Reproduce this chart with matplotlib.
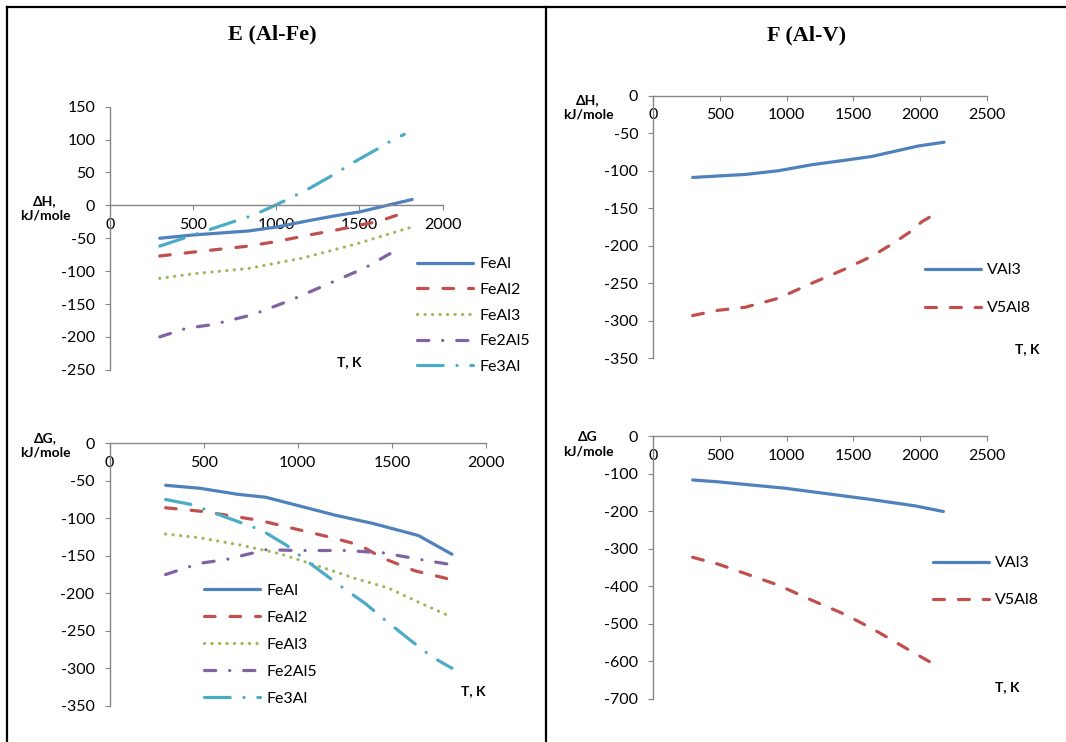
import matplotlib
matplotlib.use("Agg")
import matplotlib.pyplot as plt
from matplotlib.lines import Line2D

plt.rcParams['font.family'] = ['Lato', 'DejaVu Sans']
plt.rcParams['lines.scale_dashes'] = False
plt.rcParams['axes.unicode_minus'] = False

W, H = 1066, 742

# ---------------- data ----------------
# E (Al-Fe), dH, kJ/mole
h_feal_t = [298, 500, 830, 1000, 1200, 1350, 1500, 1650, 1818]
h_feal = [-50, -45, -39, -33, -23, -16, -10, -1, 9]
h_feal2_t = [298, 500, 830, 1000, 1220, 1330, 1620, 1760]
h_feal2 = [-77, -71, -62, -55, -44, -39, -24, -12]
h_feal3_t = [298, 500, 830, 1160, 1490, 1815]
h_feal3 = [-111, -104, -96, -80, -58, -33]
h_fe2al5_t = [298, 456, 622, 860, 1088, 1306, 1534, 1742]
h_fe2al5 = [-200, -187, -181, -166, -144, -120, -95, -65]
h_fe3al_t = [298, 500, 620, 860, 975, 1050, 1130, 1200, 1340, 1430, 1490, 1610, 1690, 1770]
h_fe3al = [-62, -45, -35, -15, -2, 7, 17, 26, 46, 60, 69, 86, 98, 108]

# E (Al-Fe), dG, kJ/mole
g_feal_t = [298, 480, 680, 830, 1000, 1200, 1400, 1640, 1818]
g_feal = [-56, -60, -68, -72, -83, -96, -107, -123, -148]
g_feal2_t = [298, 500, 800, 1000, 1200, 1330, 1450, 1620, 1818]
g_feal2 = [-86, -91, -103, -115, -127, -136, -153, -170, -182]
g_feal3_t = [298, 480, 700, 900, 1100, 1300, 1480, 1650, 1818]
g_feal3 = [-121, -126, -136, -147, -163, -180, -193, -213, -232]
g_fe2al5_t = [298, 480, 620, 830, 1000, 1250, 1450, 1650, 1818]
g_fe2al5 = [-175, -160, -155, -142, -143, -143, -146, -155, -162]
g_fe3al_t = [298, 442, 590, 808, 880, 940, 1064, 1230, 1360, 1440, 1594, 1713, 1818]
g_fe3al = [-75, -82, -96, -116, -127, -136, -160, -191, -214, -231, -262, -285, -300]

# F (Al-V), dH, kJ/mole
h_val3_t = [295, 487, 688, 938, 1188, 1438, 1638, 1813, 1988, 2180]
h_val3 = [-109, -107, -105, -100, -92, -86, -81, -74, -67, -62]
h_v5al8_t = [295, 487, 688, 938, 1188, 1438, 1638, 1788, 1938, 2013, 2138]
h_v5al8 = [-293, -286, -282, -270, -250, -231, -214, -198, -180, -168, -155]

# F (Al-V), dG, kJ/mole
g_val3_t = [295, 487, 988, 1613, 1963, 2175]
g_val3 = [-117, -122, -139, -168, -186, -201]
g_v5al8_t = [295, 487, 938, 1188, 1438, 1638, 1813, 1963, 2138]
g_v5al8 = [-323, -341, -397, -437, -475, -512, -548, -579, -614]

fe_names = ['FeAl', 'FeAl2', 'FeAl3', 'Fe2Al5', 'Fe3Al']
v_names = ['VAl3', 'V5Al8']

# Excel 2007 palette
blue, red, green, purple, aqua = '#4F81BD', '#C0504D', '#9BBB59', '#8064A2', '#4BACC6'
gray = '#868686'
LW = 2.3

styles = {
    'FeAl': dict(color=blue, linestyle='-'),
    'FeAl2': dict(color=red, linestyle=(0, (7.6, 10.8))),
    'FeAl3': dict(color=green, linestyle=(0, (0.1, 5.3))),
    'Fe2Al5': dict(color=purple, linestyle=(0, (8.1, 10, 0.1, 10))),
    'Fe3Al': dict(color=aqua, linestyle=(0, (18.5, 9.9, 0.1, 9.9))),
    'VAl3': dict(color=blue, linestyle='-'),
    'V5Al8': dict(color=red, linestyle=(0, (7.9, 10))),
}

fig = plt.figure(figsize=(W / 100, H / 100), dpi=100)


def px_axes(x0, x1, ytop, ybot):
    return fig.add_axes([x0 / W, 1 - ybot / H, (x1 - x0) / W, (ybot - ytop) / H])


def style(ax, xmax, xstep, ymin, ymax, ystep):
    ax.set_xlim(0, xmax)
    ax.set_ylim(ymin, ymax)
    ax.set_xticks(range(0, xmax + 1, xstep))
    ax.set_yticks(range(ymin, ymax + 1, ystep))
    for s in ['top', 'right']:
        ax.spines[s].set_visible(False)
    ax.spines['bottom'].set_position(('data', 0))
    for s in ['left', 'bottom']:
        ax.spines[s].set_color(gray)
        ax.spines[s].set_linewidth(1.0)
    ax.tick_params(length=3.6, width=0.8, color=gray, labelsize=11.5, labelcolor='#000000')
    ax.tick_params(axis='x', pad=5.5)
    ax.tick_params(axis='y', pad=7.2)
    ax.patch.set_visible(False)


def draw(ax, name, t, v):
    ax.plot(t, v, lw=LW, label=name, solid_capstyle='round', dash_capstyle='round',
            solid_joinstyle='round', **styles[name])


def legend(ax, x, ytop, spacing):
    ax.legend(loc='upper left', bbox_to_anchor=(x / W, 1 - ytop / H),
              bbox_transform=fig.transFigure, frameon=False, borderpad=0,
              borderaxespad=0, handlelength=3.5, handletextpad=0.4,
              labelspacing=spacing, fontsize=11.5)


# ---- E: dH ----
ax1 = px_axes(110.2, 442.5, 106.7, 369.8)
style(ax1, 2000, 500, -250, 150, 50)
for name, t, v in zip(fe_names, [h_feal_t, h_feal2_t, h_feal3_t, h_fe2al5_t, h_fe3al_t],
                      [h_feal, h_feal2, h_feal3, h_fe2al5, h_fe3al]):
    draw(ax1, name, t, v)
legend(ax1, 417.4, 257, 0.72)

# ---- E: dG ----
ax2 = px_axes(109.5, 486.2, 443.3, 705.7)
style(ax2, 2000, 500, -350, 0, 50)
for name, t, v in zip(fe_names, [g_feal_t, g_feal2_t, g_feal3_t, g_fe2al5_t, g_fe3al_t],
                      [g_feal, g_feal2, g_feal3, g_fe2al5, g_fe3al]):
    draw(ax2, name, t, v)
legend(ax2, 204, 583.5, 0.8)

# ---- F: dH ----
ax3 = px_axes(653.3, 986.7, 95.7, 358.3)
style(ax3, 2500, 500, -350, 0, 50)
for name, t, v in zip(v_names, [h_val3_t, h_v5al8_t], [h_val3, h_v5al8]):
    draw(ax3, name, t, v)
legend(ax3, 925, 263, 1.5)

# ---- F: dG ----
ax4 = px_axes(653.3, 986.7, 436, 699)
style(ax4, 2500, 500, -700, 0, 100)
for name, t, v in zip(v_names, [g_val3_t, g_v5al8_t], [g_val3, g_v5al8]):
    draw(ax4, name, t, v)
legend(ax4, 933, 556, 1.44)

# axis captions
lab = dict(ha='center', va='center', fontsize=10, fontweight='bold', linespacing=1.25)
fig.text(45 / W, 1 - 208.5 / H, '\u0394H,\nkJ/mole', **lab)
fig.text(45 / W, 1 - 445 / H, '\u0394G,\nkJ/mole', **lab)
fig.text(588 / W, 1 - 107 / H, '\u0394H,\nkJ/mole', **lab)
fig.text(588 / W, 1 - 444 / H, '\u0394G\nkJ/mole', **lab)
tk = dict(ha='center', va='center', fontsize=10, fontweight='bold')
fig.text(349.5 / W, 1 - 362 / H, 'T, K', **tk)
fig.text(473.5 / W, 1 - 691 / H, 'T, K', **tk)
fig.text(1027 / W, 1 - 349 / H, 'T, K', **tk)
fig.text(1007 / W, 1 - 687 / H, 'T, K', **tk)

# panel titles
ttl = dict(ha='center', va='baseline', fontsize=16, fontweight='bold', family='Liberation Serif')
fig.text(272 / W, 1 - 39.5 / H, 'E (Al-Fe)', **ttl)
fig.text(807 / W, 1 - 40.5 / H, 'F (Al-V)', **ttl)

# table borders
for xs, ys in [([7, 7], [7, H]), ([7, W], [7, 7]), ([546, 546], [7, H])]:
    fig.add_artist(Line2D([x / W for x in xs], [1 - y / H for y in ys], color='black', lw=1.6))

fig.savefig('out.png', dpi=100)
